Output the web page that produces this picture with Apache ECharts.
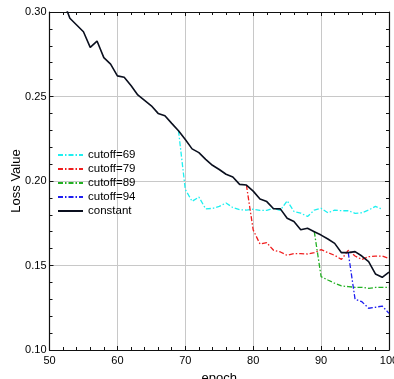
<!DOCTYPE html>
<html><head><meta charset="utf-8">
<script src="https://cdn.jsdelivr.net/npm/echarts@6/dist/echarts.min.js"></script>
<style>html,body{margin:0;padding:0;background:#fff}#c{width:394px;height:379px}</style>
</head><body><div id="c"></div>
<script>
var epochs = [52,53,54,55,56,57,58,59,60,61,62,63,64,65,66,67,68,69,70,71,72,73,74,75,76,77,78,79,80,81,82,83,84,85,86,87,88,89,90,91,92,93,94,95,96,97,98,99,100];
var constant = [0.307,0.2963,0.2923,0.2883,0.2791,0.2828,0.2730,0.2692,0.2622,0.2614,0.2565,0.2509,0.2477,0.2445,0.2400,0.2386,0.2341,0.2297,0.2245,0.2190,0.2168,0.2128,0.2093,0.2068,0.2040,0.2024,0.1980,0.1976,0.1940,0.1893,0.1878,0.1836,0.1835,0.1780,0.1760,0.1712,0.1720,0.1700,0.1680,0.1657,0.1631,0.1576,0.1576,0.1582,0.1556,0.1523,0.1450,0.1430,0.1461];
var cutoff69Start = 69;
var cutoff69 = [0.2297,0.1950,0.1880,0.1905,0.1835,0.1838,0.1850,0.1870,0.1843,0.1830,0.1828,0.1833,0.1826,0.1826,0.1838,0.1826,0.1883,0.1820,0.1810,0.1790,0.1828,0.1838,0.1812,0.1828,0.1824,0.1824,0.1809,0.1812,0.1828,0.1850,0.1833];
var cutoff79Start = 79;
var cutoff79 = [0.1976,0.1710,0.1627,0.1635,0.1590,0.1580,0.1560,0.1570,0.1570,0.1568,0.1576,0.1594,0.1576,0.1560,0.1536,0.1590,0.1556,0.1536,0.1552,0.1556,0.1556,0.1542];
var cutoff89Start = 89;
var cutoff89 = [0.1700,0.1434,0.1414,0.1395,0.1379,0.1375,0.1371,0.1371,0.1365,0.1370,0.1370,0.1370];
var cutoff94Start = 94;
var cutoff94 = [0.1576,0.1300,0.1286,0.1247,0.1253,0.1260,0.1217];
var xTicks = [50,60,70,80,90,100];
var yTicks = [0.10,0.15,0.20,0.25,0.30];

function pairs(start, vals){ return vals.map(function(v,i){ return [start+i, v]; }); }
function pairsX(xs, vals){ return vals.map(function(v,i){ return [xs[i], v]; }); }

var dashDot = [5,2,1.5,2];
var font = 'Liberation Sans, Arial, sans-serif';
var chart = echarts.init(document.getElementById('c'));
function lineSeries(name, data, color, type, width){
  return {name:name, type:'line', data:data, symbol:'none', showSymbol:false, clip:true,
    lineStyle:{color:color, width:width, type:type}, itemStyle:{color:color}, animation:false};
}
chart.setOption({
  animation:false,
  textStyle:{fontFamily:font},
  grid:{left:49.5, right:5, top:12, bottom:29, containLabel:false, outerBoundsMode:'none'},
  legend:{
    left:52, top:144, orient:'vertical', itemWidth:25, itemHeight:10, itemGap:2.0,
    itemStyle:{opacity:0},
    textStyle:{fontFamily:font, fontSize:11.5, color:'#000'},
    data:['cutoff=69','cutoff=79','cutoff=89','cutoff=94','constant']
  },
  xAxis:[{
    type:'value', min:50, max:100, interval:10, position:'bottom',
    name:'epoch', nameLocation:'middle', nameGap:22, nameMoveOverlap:false,
    nameTextStyle:{fontFamily:font, fontSize:13, color:'#000'},
    axisLine:{show:true, onZero:false, lineStyle:{color:'#111', width:1.2}},
    axisTick:{show:true, inside:true, length:4, lineStyle:{color:'#111'}},
    minorTick:{show:true, splitNumber:5, length:3, lineStyle:{color:'#111'}},
    axisLabel:{fontFamily:font, fontSize:11, color:'#000', margin:5,
      formatter:function(v){ return xTicks.indexOf(v)>=0 ? String(v) : ''; }},
    splitLine:{show:true, lineStyle:{color:'#c8c8c8', width:1}}
  },{
    type:'value', min:50, max:100, interval:10, position:'top',
    axisLine:{show:true, onZero:false, lineStyle:{color:'#111', width:1.2}},
    axisTick:{show:true, inside:true, length:4, lineStyle:{color:'#111'}},
    minorTick:{show:true, splitNumber:5, length:3, lineStyle:{color:'#111'}},
    axisLabel:{show:false}, splitLine:{show:false}
  }],
  yAxis:[{
    type:'value', min:0.10, max:0.30, interval:0.05, position:'left',
    name:'Loss Value', nameLocation:'middle', nameGap:27, nameRotate:90, nameMoveOverlap:false,
    nameTextStyle:{fontFamily:font, fontSize:13, color:'#000'},
    axisLine:{show:true, onZero:false, lineStyle:{color:'#111', width:1.2}},
    axisTick:{show:true, inside:true, length:4, lineStyle:{color:'#111'}},
    minorTick:{show:true, splitNumber:5, length:3, lineStyle:{color:'#111'}},
    axisLabel:{fontFamily:font, fontSize:11, color:'#000', margin:3,
      formatter:function(v){ return v.toFixed(2); }},
    splitLine:{show:true, lineStyle:{color:'#c8c8c8', width:1}}
  },{
    type:'value', min:0.10, max:0.30, interval:0.05, position:'right',
    axisLine:{show:true, onZero:false, lineStyle:{color:'#111', width:1.2}},
    axisTick:{show:true, inside:true, length:4, lineStyle:{color:'#111'}},
    minorTick:{show:true, splitNumber:5, length:3, lineStyle:{color:'#111'}},
    axisLabel:{show:false}, splitLine:{show:false}
  }],
  series:[
    lineSeries('cutoff=69', pairs(cutoff69Start, cutoff69), '#1ef0f0', dashDot, 1.3),
    lineSeries('cutoff=79', pairs(cutoff79Start, cutoff79), '#f01e1e', dashDot, 1.3),
    lineSeries('cutoff=89', pairs(cutoff89Start, cutoff89), '#22b022', dashDot, 1.3),
    lineSeries('cutoff=94', pairs(cutoff94Start, cutoff94), '#1e1ef0', dashDot, 1.3),
    lineSeries('constant', pairsX(epochs, constant), '#0a0f1e', 'solid', 1.6)
  ]
});
</script></body></html>
